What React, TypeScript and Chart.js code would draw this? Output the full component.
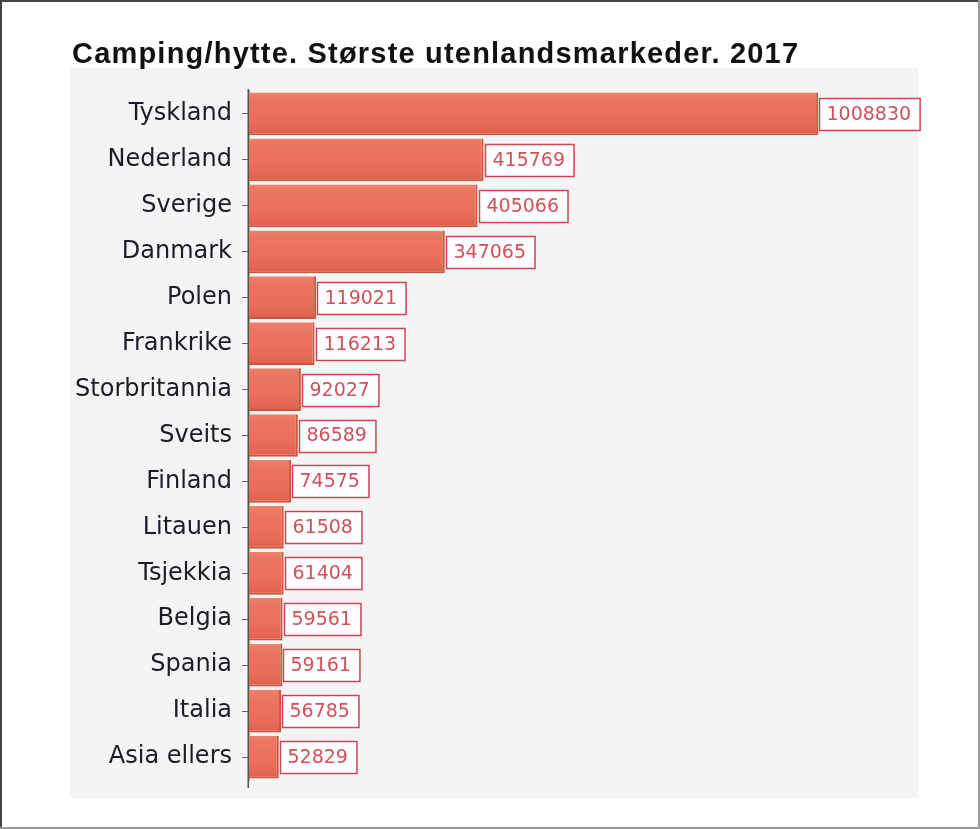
import React, { useEffect, useRef } from "react";
import { Chart, registerables } from "chart.js";

Chart.register(...registerables);

const TITLE = "Camping/hytte. Største utenlandsmarkeder. 2017";
const categories = [
  "Tyskland", "Nederland", "Sverige", "Danmark", "Polen", "Frankrike", "Storbritannia",
  "Sveits", "Finland", "Litauen", "Tsjekkia", "Belgia", "Spania", "Italia", "Asia ellers",
];
const values = [
  1008830, 415769, 405066, 347065, 119021, 116213, 92027,
  86589, 74575, 61508, 61404, 59561, 59161, 56785, 52829,
];
const X_MAX = 1200000;

const W = 980;
const H = 829;

const framePlugin = {
  id: "frame",
  beforeDraw(chart: any) {
    const c = chart.ctx;
    c.save();
    c.fillStyle = "#ffffff";
    c.fillRect(0, 0, W, H);
    c.fillStyle = "#f4f4f4";
    c.fillRect(70, 68, 848, 730);
    // outer frame
    c.fillStyle = "#444";
    c.fillRect(0, 0, W, 2);
    c.fillRect(0, 0, 2, H);
    c.fillStyle = "#9a9a9a";
    c.fillRect(0, H - 2, W, 2);
    c.fillRect(W - 2, 0, 2, H);
    // title
    c.fillStyle = "#111";
    c.font = 'bold 29px "Liberation Sans", Arial, sans-serif';
    c.textBaseline = "alphabetic";
    c.textAlign = "left";
    (c as any).letterSpacing = "1.2px";
    c.fillText(TITLE, 72, 63);
    (c as any).letterSpacing = "0px";
    c.restore();
  },
  afterDraw(chart: any) {
    const c = chart.ctx;
    const a = chart.chartArea;
    c.save();
    c.strokeStyle = "#555";
    c.lineWidth = 1.5;
    c.beginPath();
    c.moveTo(a.left - 0.75, a.top - 2);
    c.lineTo(a.left - 0.75, a.bottom + 8);
    c.stroke();
    c.restore();
  },
};

const labelPlugin = {
  id: "valueLabels",
  afterDatasetsDraw(chart: any) {
    const c = chart.ctx;
    const meta = chart.getDatasetMeta(0);
    c.save();
    c.font = '19px "DejaVu Sans", Verdana, sans-serif';
    c.textBaseline = "middle";
    c.textAlign = "left";
    meta.data.forEach((bar: any, i: number) => {
      const text = String(values[i]);
      const tw = c.measureText(text).width;
      const x0 = Math.round(bar.x) + 1.5;
      const bw = tw + 16;
      const bh = 32;
      const y0 = Math.round(bar.y - bh / 2) + 0.5;
      c.fillStyle = "#ffffff";
      c.fillRect(x0, y0, bw, bh);
      c.strokeStyle = "#cf4353";
      c.lineWidth = 1.5;
      c.strokeRect(x0, y0, bw, bh);
      c.fillStyle = "#d0505c";
      c.fillText(text, x0 + 7, bar.y + 1);
    });
    c.restore();
  },
};

export default function App() {
  const ref = useRef<HTMLCanvasElement | null>(null);

  useEffect(() => {
    if (!ref.current) return;
    const chart = new Chart(ref.current, {
      type: "bar",
      data: {
        labels: categories,
        datasets: [
          {
            data: values,
            backgroundColor: (ctx: any) => {
              const chart = ctx.chart;
              const y = chart.scales && chart.scales.y;
              if (!y || ctx.dataIndex === undefined) return "#ea705b";
              const cy = y.getPixelForValue(ctx.dataIndex);
              if (!Number.isFinite(cy)) return "#ea705b";
              const g = chart.ctx.createLinearGradient(0, cy - 22, 0, cy + 22);
              g.addColorStop(0, "#ef8571");
              g.addColorStop(0.12, "#ec7762");
              g.addColorStop(0.7, "#e86d58");
              g.addColorStop(1, "#dc5f4a");
              return g;
            },
            borderColor: "#cc5540",
            borderWidth: { top: 0, right: 2, bottom: 2, left: 0 },
            borderSkipped: "start",
            categoryPercentage: 0.93,
            barPercentage: 1.0,
          },
        ],
      },
      options: {
        indexAxis: "y",
        responsive: false,
        animation: false,
        devicePixelRatio: 1,
        layout: { padding: { left: 0, top: 91, right: 54, bottom: 49 } },
        plugins: {
          legend: { display: false },
          title: { display: false },
          tooltip: { enabled: false },
        },
        scales: {
          x: { display: false, min: 0, max: X_MAX },
          y: {
            afterFit: (scale: any) => {
              scale.width = 249;
            },
            ticks: {
              color: "#1c1c28",
              font: { family: '"DejaVu Sans", Verdana, sans-serif', size: 24 },
              padding: 10,
            },
            grid: {
              offset: false,
              drawOnChartArea: false,
              drawTicks: true,
              tickLength: 7,
              color: "#666",
            },
            border: { display: true, color: "#555", width: 1.5 },
          },
        },
      },
      plugins: [framePlugin, labelPlugin],
    } as any);
    return () => chart.destroy();
  }, []);

  return (
    <div style={{ position: "absolute", left: 0, top: 0, width: W, height: H }}>
      <canvas ref={ref} width={W} height={H} style={{ width: W, height: H, display: "block" }} />
    </div>
  );
}
